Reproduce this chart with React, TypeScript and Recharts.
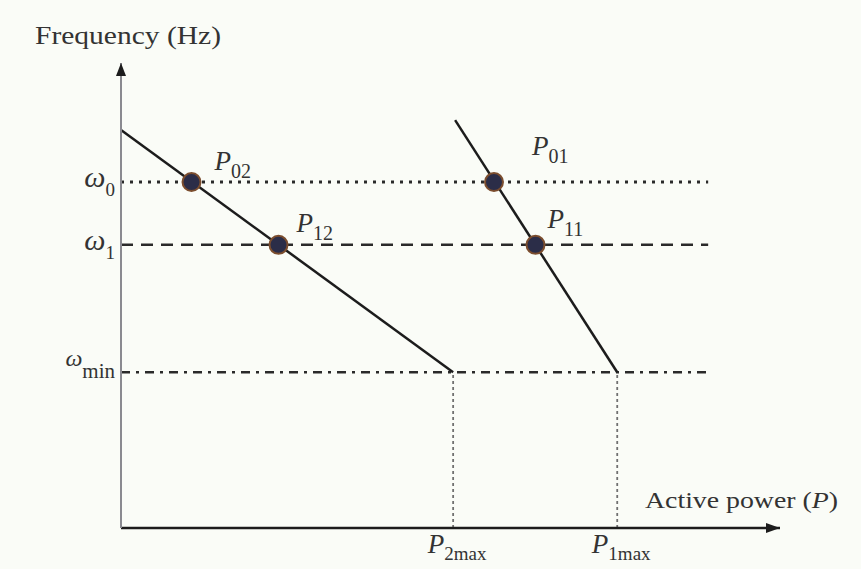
import { ComposedChart, Line, XAxis, YAxis, ReferenceLine, ReferenceDot, LabelList } from 'recharts';

// droop characteristics: frequency vs active power (arbitrary units, 0..100)
const droopLine2 = [
  { p: 0, f: 85.6 },
  { p: 50.4, f: 33.5 },
];
const droopLine1 = [
  { p: 50.7, f: 87.7 },
  { p: 75.3, f: 33.5 },
];
const operatingPoints = [
  { name: '02', p: 10.7, f: 74.4 },
  { name: '12', p: 23.9, f: 60.9 },
  { name: '01', p: 56.6, f: 74.4 },
  { name: '11', p: 62.9, f: 60.9 },
];
const freqTicks = [74.4, 60.9, 33.5];
const freqTickLabels = ['0', '1', 'min'];
const powerTicks = [50.4, 75.3];
const powerTickLabels = ['2max', '1max'];
const levelEndP = 89.1;

const SERIF = '"Liberation Serif", "DejaVu Serif", serif';
const INK = '#1c1c1c';

const levelDash = ['3 6', '12 8', '9 6 3 6'];

const labelOffset: Record<string, [number, number]> = {
  '02': [23, -12],
  '12': [18, -13],
  '01': [38, -27],
  '11': [12, -17],
};

function FreqTick(props: any) {
  const { x, y, payload } = props;
  const idx = freqTicks.indexOf(payload.value);
  const sub = freqTickLabels[idx];
  const isMin = sub === 'min';
  return (
    <text x={x - 6} y={y + (isMin ? -6 : 5)} textAnchor="end" fontFamily={SERIF} fill="#333">
      <tspan fontSize={isMin ? 24 : 30} fontStyle="italic">ω</tspan>
      <tspan fontSize={isMin ? 21 : 19} dy={isMin ? 12 : 9}>{sub}</tspan>
    </text>
  );
}

function PowerTick(props: any) {
  const { x, y, payload } = props;
  const idx = powerTicks.indexOf(payload.value);
  return (
    <text x={x + 4} y={y + 25} textAnchor="middle" fontFamily={SERIF} fill="#333">
      <tspan fontSize={27} fontStyle="italic">P</tspan>
      <tspan fontSize={19} dy={7}>{powerTickLabels[idx]}</tspan>
    </text>
  );
}

function PointDot(props: any) {
  const { cx, cy } = props;
  return <circle cx={cx} cy={cy} r={9} fill="#2b2d48" stroke="#7b4d2e" strokeWidth={2} />;
}

function PointLabel(props: any) {
  const { x, y, value } = props;
  const [dx, dy] = labelOffset[value] || [15, -15];
  return (
    <text x={x + dx} y={y + dy} fontFamily={SERIF} fill="#333">
      <tspan fontSize={27} fontStyle="italic">P</tspan>
      <tspan fontSize={20} dy={8}>{value}</tspan>
    </text>
  );
}

const upArrow = (props: any) => (
  <path d={`M${props.cx - 5},${props.cy + 13} L${props.cx},${props.cy} L${props.cx + 5},${props.cy + 13} Z`} fill={INK} />
);
const rightArrow = (props: any) => (
  <path d={`M${props.cx - 14},${props.cy - 5} L${props.cx},${props.cy} L${props.cx - 14},${props.cy + 5} Z`} fill={INK} />
);

export default function App() {
  return (
    <div style={{ position: 'fixed', left: 0, top: 0, width: 861, height: 569, background: '#fafcf7' }}>
      <ComposedChart width={861} height={569} margin={{ top: 63, right: 81, bottom: 11, left: 61 }}>
        <XAxis
          dataKey="p"
          type="number"
          domain={[0, 100]}
          ticks={powerTicks}
          tick={<PowerTick />}
          tickLine={false}
          tickSize={0}
          tickMargin={0}
          height={30}
          axisLine={{ stroke: INK, strokeWidth: 2.5 }}
          label={({ viewBox }: any) => (
            <text x={viewBox.x + 524} y={viewBox.y - 20} fontFamily={SERIF} fontSize={23} fill="#333" textLength={193} lengthAdjust="spacingAndGlyphs">
              Active power (<tspan fontStyle="italic">P</tspan>)
            </text>
          )}
        />
        <YAxis
          type="number"
          domain={[0, 100]}
          ticks={freqTicks}
          tick={<FreqTick />}
          tickLine={false}
          tickSize={0}
          tickMargin={0}
          width={60}
          axisLine={{ stroke: '#8a8a90', strokeWidth: 2 }}
          label={({ viewBox }: any) => (
            <text x={viewBox.x + viewBox.width - 86} y={viewBox.y - 19} fontFamily={SERIF} fontSize={26} fill="#333" textLength={186} lengthAdjust="spacingAndGlyphs">
              Frequency (Hz)
            </text>
          )}
        />

        {freqTicks.map((f, i) => (
          <ReferenceLine
            key={f}
            segment={[{ x: 0, y: f }, { x: levelEndP, y: f }]}
            stroke="#2a2a2a"
            strokeWidth={i === 0 ? 3 : 2.5}
            strokeDasharray={levelDash[i]}
            ifOverflow="visible"
          />
        ))}
        {powerTicks.map((p) => (
          <ReferenceLine
            key={p}
            segment={[{ x: p, y: 0 }, { x: p, y: freqTicks[2] }]}
            stroke="#707070"
            strokeWidth={1.8}
            strokeDasharray="3 3"
            ifOverflow="visible"
          />
        ))}

        <Line data={droopLine2} dataKey="f" stroke={INK} strokeWidth={2.5} dot={false} isAnimationActive={false} />
        <Line data={droopLine1} dataKey="f" stroke={INK} strokeWidth={2.5} dot={false} isAnimationActive={false} />
        <Line data={operatingPoints} dataKey="f" stroke="none" dot={<PointDot />} activeDot={false} isAnimationActive={false}>
          <LabelList dataKey="name" content={<PointLabel />} />
        </Line>

        <ReferenceDot x={0} y={100} r={0} shape={upArrow} ifOverflow="visible" />
        <ReferenceDot x={100} y={0} r={0} shape={rightArrow} ifOverflow="visible" />
      </ComposedChart>
    </div>
  );
}
